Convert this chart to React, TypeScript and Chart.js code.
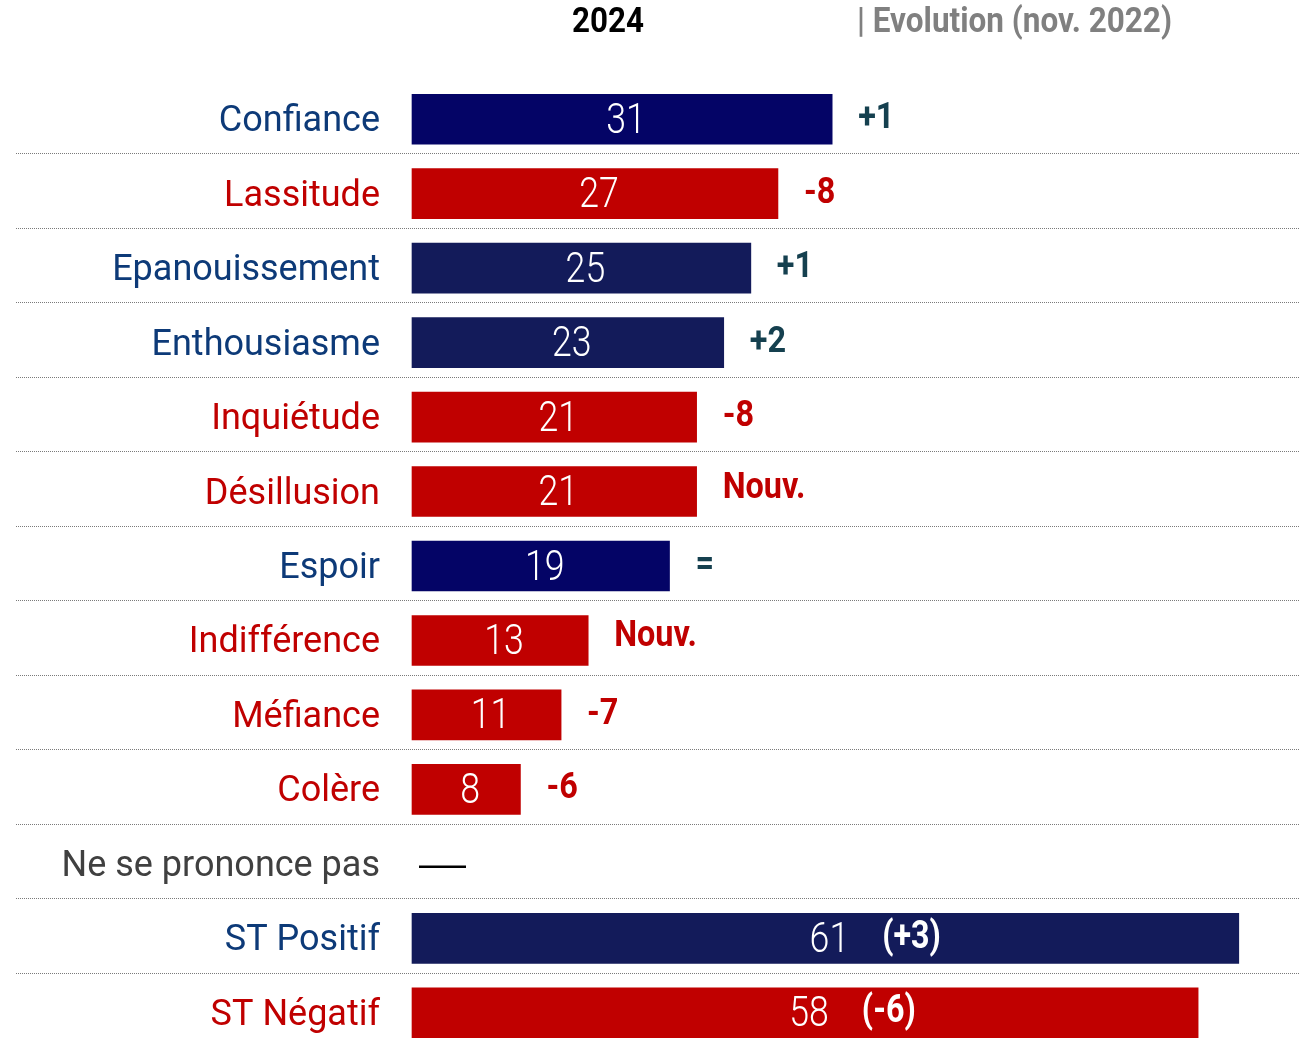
import React, { useEffect, useRef } from "react";
import { Chart, registerables } from "chart.js";

Chart.register(...registerables);

const categories = [
  "Confiance",
  "Lassitude",
  "Epanouissement",
  "Enthousiasme",
  "Inquiétude",
  "Désillusion",
  "Espoir",
  "Indifférence",
  "Méfiance",
  "Colère",
  "Ne se prononce pas",
  "ST Positif",
  "ST Négatif",
];

const values2024: (number | null)[] = [31, 27, 25, 23, 21, 21, 19, 13, 11, 8, null, 61, 58];

const evolutions = ["+1", "-8", "+1", "+2", "-8", "Nouv.", "=", "Nouv.", "-7", "-6", "", "(+3)", "(-6)"];

// "pos" | "neg" | "nsp"
const tone = ["pos", "neg", "pos", "pos", "neg", "neg", "pos", "neg", "neg", "neg", "nsp", "pos", "neg"];

const barColors = [
  "#040466", "#c00000", "#131b5a", "#131b5a", "#c00000", "#c00000",
  "#040466", "#c00000", "#c00000", "#c00000", "rgba(0,0,0,0)", "#131b5a", "#c00000",
];

const headerYear = "2024";
const headerEvolution = "| Evolution (nov. 2022)";

const LABEL_BLUE = "#0d3a78";
const RED = "#c00000";
const TEAL = "#15404f";
const GRAY = "#404040";

const FONT = "Roboto, 'Noto Sans', sans-serif";

export default function App() {
  const ref = useRef<HTMLCanvasElement | null>(null);

  useEffect(() => {
    document.body.style.margin = "0";
    document.body.style.overflow = "hidden";
    const canvas = ref.current;
    if (!canvas) return;

    const separators = {
      id: "separators",
      beforeDatasetsDraw(chart: any) {
        const ctx = chart.ctx;
        const y = chart.scales.y;
        ctx.save();
        ctx.strokeStyle = "#7a7a7a";
        ctx.lineWidth = 1;
        ctx.setLineDash([1, 1]);
        for (let i = 0; i < categories.length - 1; i++) {
          const py = Math.round((y.getPixelForValue(i) + y.getPixelForValue(i + 1)) / 2 - 3) + 0.5;
          ctx.beginPath();
          ctx.moveTo(16, py);
          ctx.lineTo(1300, py);
          ctx.stroke();
        }
        ctx.restore();
      },
    };

    const labels = {
      id: "barLabels",
      afterDatasetsDraw(chart: any) {
        const ctx = chart.ctx;
        const meta = chart.getDatasetMeta(0);
        const xs = chart.scales.x;
        const ys = chart.scales.y;
        ctx.save();
        ctx.textBaseline = "middle";
        meta.data.forEach((el: any, i: number) => {
          const v = values2024[i];
          const evo = evolutions[i];
          if (v === null) {
            const x0 = xs.getPixelForValue(0) + 7;
            const cy = ys.getPixelForValue(i) + 3;
            ctx.strokeStyle = "#000";
            ctx.lineWidth = 2.5;
            ctx.setLineDash([]);
            ctx.beginPath();
            ctx.moveTo(x0, cy);
            ctx.lineTo(x0 + 47, cy);
            ctx.stroke();
            return;
          }
          const cx = (el.base + el.x) / 2 + 4;
          const cy = el.y + 3;
          const sx = 0.85;
          ctx.font = `300 42px ${FONT}`;
          ctx.fillStyle = "#ffffff";
          ctx.textAlign = "center";
          const tw = ctx.measureText(String(v)).width * sx;
          ctx.save();
          ctx.translate(cx, cy);
          ctx.scale(sx, 1);
          ctx.fillText(String(v), 0, 0);
          ctx.restore();

          if (!evo) return;
          ctx.textAlign = "left";
          if (i >= 11) {
            ctx.font = `bold 38px ${FONT}`;
            ctx.fillStyle = "#ffffff";
            ctx.save();
            ctx.translate(cx + tw / 2 + 33, el.y);
            ctx.scale(0.85, 1);
            ctx.fillText(evo, 0, 0);
            ctx.restore();
          } else {
            ctx.font = `bold 36px ${FONT}`;
            const neg = tone[i] === "neg";
            ctx.fillStyle = neg ? RED : TEAL;
            const dy = evo === "Nouv." ? -3 : 0;
            ctx.save();
            ctx.translate(el.x + 26, el.y + dy);
            ctx.scale(0.9, 1);
            ctx.fillText(evo, 0, 0);
            ctx.restore();
          }
        });
        ctx.restore();
      },
      afterDraw(chart: any) {
        const ctx = chart.ctx;
        ctx.save();
        ctx.textBaseline = "middle";
        ctx.font = `bold 35px ${FONT}`;
        ctx.fillStyle = "#000";
        ctx.textAlign = "center";
        const yw = ctx.measureText(headerYear).width;
        ctx.save();
        ctx.translate(608, 23);
        ctx.scale(72 / yw, 1);
        ctx.fillText(headerYear, 0, 0);
        ctx.restore();
        ctx.fillStyle = "#808080";
        ctx.textAlign = "left";
        const w = ctx.measureText(headerEvolution).width;
        const s = 315 / w;
        ctx.save();
        ctx.translate(857, 23);
        ctx.scale(s, 1);
        ctx.fillText(headerEvolution, 0, 0);
        ctx.restore();
        ctx.restore();
      },
    };

    const chart = new Chart(canvas, {
      type: "bar",
      data: {
        labels: categories,
        datasets: [
          {
            data: values2024 as any,
            backgroundColor: barColors,
            borderWidth: 0,
            barThickness: 50,
            clip: false as any,
          },
        ],
      },
      options: {
        indexAxis: "y",
        animation: false,
        responsive: false,
        maintainAspectRatio: false,
        layout: { padding: { top: 82, bottom: 2, left: 0, right: 8 } },
        plugins: {
          legend: { display: false },
          tooltip: { enabled: false },
          title: { display: false },
        },
        scales: {
          x: { display: false, min: 0, max: 65 },
          y: {
            type: "category",
            offset: true,
            grid: { display: false, drawTicks: false },
            border: { display: false },
            afterFit: (scale: any) => {
              scale.width = 412;
              scale.paddingTop = 0;
              scale.paddingBottom = 0;
            },
            ticks: {
              padding: 32,
              labelOffset: 3,
              autoSkip: false,
              font: { family: FONT, size: 36, weight: "normal" as any },
              color: (c: any) => {
                const t = tone[c.index];
                return t === "pos" ? LABEL_BLUE : t === "neg" ? RED : GRAY;
              },
            },
          },
        },
      },
      plugins: [separators, labels],
    });

    return () => chart.destroy();
  }, []);

  return (
    <div style={{ width: 1301, height: 1044, position: "relative", overflow: "hidden", background: "#fff" }}>
      <canvas ref={ref} width={1301} height={1052} style={{ display: "block" }} />
    </div>
  );
}
